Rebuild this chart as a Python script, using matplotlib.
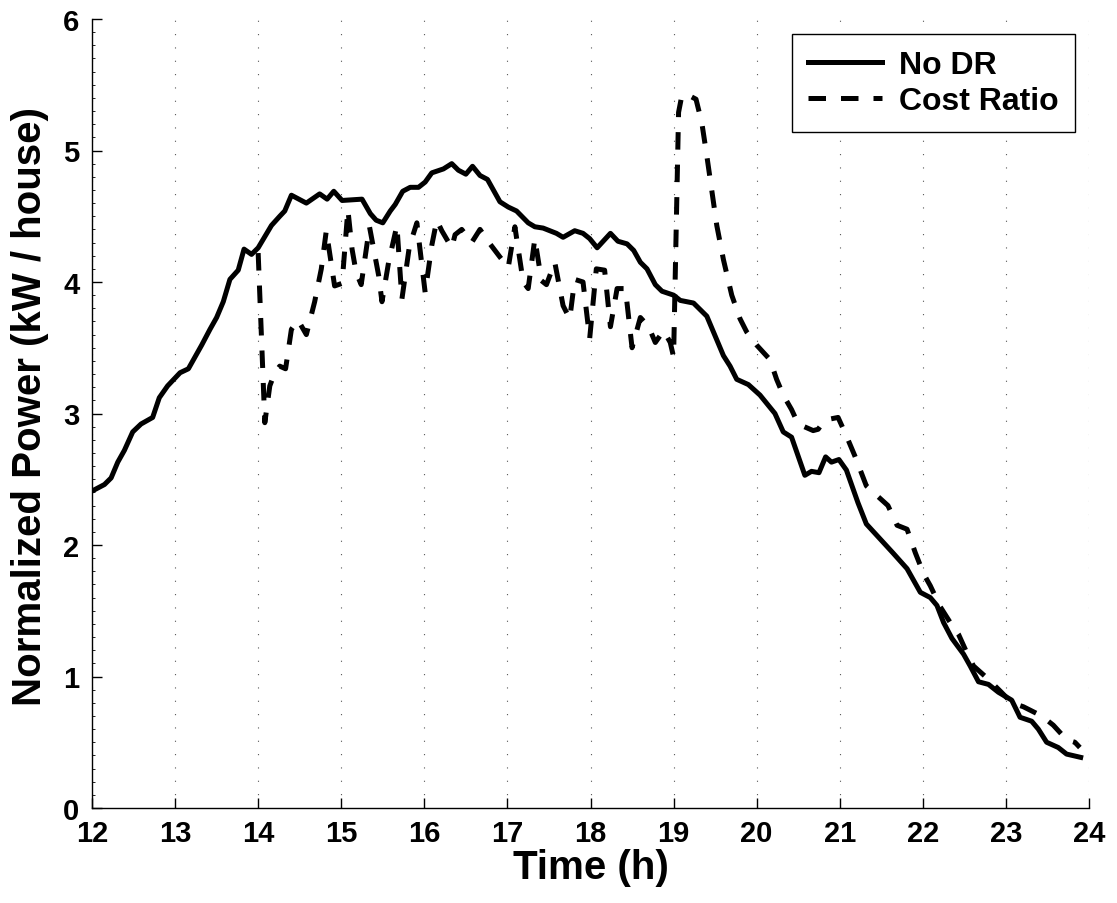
import matplotlib
matplotlib.use("Agg")
import matplotlib.pyplot as plt
from matplotlib.ticker import MultipleLocator

# ---------------- data ----------------
nodr_t = [12.00, 12.15, 12.23, 12.31, 12.39, 12.49, 12.59, 12.73, 12.81, 12.91,
          13.06, 13.16, 13.32, 13.42, 13.50, 13.58, 13.66, 13.76, 13.83, 13.92,
          14.00, 14.16, 14.26, 14.32, 14.40, 14.58, 14.74, 14.83, 14.91, 15.01,
          15.25, 15.35, 15.42, 15.50, 15.59, 15.65, 15.74, 15.83, 15.93, 16.01,
          16.09, 16.23, 16.33, 16.41, 16.50, 16.58, 16.67, 16.76, 16.91, 17.01,
          17.11, 17.25, 17.33, 17.43, 17.59, 17.67, 17.81, 17.91, 17.99, 18.08,
          18.24, 18.33, 18.44, 18.52, 18.60, 18.68, 18.78, 18.86, 19.00, 19.08,
          19.24, 19.40, 19.50, 19.60, 19.68, 19.76, 19.90, 20.04, 20.22, 20.32,
          20.42, 20.58, 20.66, 20.75, 20.83, 20.90, 20.99, 21.08, 21.22, 21.32,
          21.48, 21.64, 21.81, 21.97, 22.09, 22.17, 22.25, 22.35, 22.49, 22.57,
          22.67, 22.79, 22.91, 23.07, 23.17, 23.31, 23.39, 23.49, 23.63, 23.73,
          23.90]
nodr_p = [2.41, 2.46, 2.51, 2.63, 2.72, 2.86, 2.92, 2.97, 3.12, 3.21,
          3.31, 3.34, 3.52, 3.64, 3.73, 3.85, 4.02, 4.09, 4.25, 4.21,
          4.26, 4.43, 4.50, 4.54, 4.66, 4.60, 4.67, 4.63, 4.69, 4.62,
          4.63, 4.52, 4.47, 4.45, 4.54, 4.59, 4.69, 4.72, 4.72, 4.76,
          4.83, 4.86, 4.90, 4.85, 4.82, 4.88, 4.81, 4.78, 4.61, 4.57,
          4.54, 4.45, 4.42, 4.41, 4.37, 4.34, 4.39, 4.37, 4.33, 4.26,
          4.37, 4.31, 4.29, 4.24, 4.15, 4.10, 3.98, 3.93, 3.90, 3.86,
          3.84, 3.74, 3.59, 3.44, 3.36, 3.26, 3.22, 3.14, 3.00, 2.86,
          2.82, 2.53, 2.56, 2.55, 2.67, 2.63, 2.65, 2.57, 2.32, 2.16,
          2.05, 1.94, 1.82, 1.64, 1.60, 1.54, 1.41, 1.29, 1.17, 1.08,
          0.96, 0.94, 0.88, 0.82, 0.69, 0.66, 0.60, 0.50, 0.46, 0.41,
          0.385]

cost_t = [14.00, 14.08, 14.14, 14.20, 14.26, 14.33, 14.40, 14.48, 14.58, 14.68,
          14.76, 14.82, 14.92, 15.01, 15.08, 15.13, 15.18, 15.24, 15.34, 15.45,
          15.49, 15.57, 15.67, 15.73, 15.82, 15.91, 16.01, 16.09, 16.15, 16.21,
          16.33, 16.37, 16.45, 16.57, 16.67, 16.79, 16.91, 17.01, 17.09, 17.19,
          17.25, 17.33, 17.41, 17.47, 17.57, 17.67, 17.75, 17.81, 17.91, 17.99,
          18.07, 18.17, 18.24, 18.32, 18.42, 18.50, 18.60, 18.70, 18.78, 18.88,
          18.96, 19.00, 19.06, 19.10, 19.18, 19.27, 19.34, 19.40, 19.52, 19.60,
          19.70, 19.80, 19.88, 20.00, 20.16, 20.24, 20.32, 20.42, 20.50, 20.68,
          20.74, 20.82, 20.98, 21.08, 21.18, 21.32, 21.44, 21.58, 21.69, 21.81,
          21.91, 22.01, 22.09, 22.21, 22.33, 22.43, 22.53, 22.61, 22.77, 22.93,
          23.07, 23.21, 23.43, 23.57, 23.73, 23.83, 23.89]
cost_p = [4.22, 2.93, 3.21, 3.31, 3.36, 3.34, 3.64, 3.71, 3.60, 3.85,
          4.10, 4.39, 3.97, 3.99, 4.55, 4.25, 4.07, 3.98, 4.42, 4.05,
          3.85, 4.15, 4.43, 3.87, 4.27, 4.45, 3.92, 4.28, 4.47, 4.39,
          4.26, 4.36, 4.40, 4.30, 4.40, 4.29, 4.19, 4.11, 4.42, 4.00,
          3.95, 4.33, 4.01, 3.98, 4.15, 3.82, 3.72, 4.02, 4.00, 3.57,
          4.10, 4.09, 3.66, 3.95, 3.95, 3.50, 3.73, 3.66, 3.54, 3.63,
          3.54, 3.43, 5.29, 5.42, 5.42, 5.39, 5.21, 4.96, 4.43, 4.17,
          3.90, 3.72, 3.62, 3.52, 3.41, 3.26, 3.14, 3.03, 2.92, 2.87,
          2.88, 2.95, 2.97, 2.83, 2.68, 2.45, 2.38, 2.30, 2.15, 2.12,
          1.94, 1.78, 1.69, 1.53, 1.41, 1.32, 1.18, 1.08, 0.99, 0.89,
          0.80, 0.77, 0.70, 0.63, 0.52, 0.50, 0.46]

series_labels = ["No DR", "Cost Ratio"]
x_ticks = list(range(12, 25))
y_ticks = list(range(0, 7))
x_label = "Time (h)"
y_label = "Normalized Power (kW / house)"

# ---------------- figure ----------------
fam = ["Liberation Sans", "DejaVu Sans"]

fig = plt.figure(figsize=(11.17, 9.04), dpi=100)
ax = fig.add_axes([92 / 1117, 1 - 809 / 904, (1089 - 92) / 1117, (809 - 20) / 904])

lw = 3.6
ax.plot(nodr_t, nodr_p, color="black", lw=lw, solid_joinstyle="round",
        label=series_labels[0], zorder=3)
ax.plot(cost_t, cost_p, color="black", lw=lw, linestyle=(0, (3.5, 3.0)),
        dash_capstyle="butt", dash_joinstyle="round",
        label=series_labels[1], zorder=3)

ax.set_xlim(12, 24)
ax.set_ylim(0, 6)
ax.set_xticks(x_ticks)
ax.set_yticks(y_ticks)
ax.yaxis.set_minor_locator(MultipleLocator(0.1))

for s in ("top", "right"):
    ax.spines[s].set_visible(False)
for s in ("left", "bottom"):
    ax.spines[s].set_linewidth(1.0)

ax.tick_params(axis="x", which="major", direction="in", length=7, width=1.0,
               pad=8)
ax.tick_params(axis="y", which="major", direction="in", length=7, width=1.0,
               pad=9)
ax.tick_params(axis="y", which="minor", direction="in", length=2.5, width=0.6)
ax.tick_params(axis="x", which="minor", bottom=False)

for lab in ax.get_xticklabels() + ax.get_yticklabels():
    lab.set_family(fam)
    lab.set_fontweight("bold")
    lab.set_fontsize(21)

ax.grid(axis="x", which="major", color="#555555", linestyle=(0, (1, 11)),
        linewidth=0.8)
ax.set_axisbelow(True)

ax.set_xlabel(x_label, family=fam, fontweight="bold", fontsize=29, labelpad=1)
ax.set_ylabel(y_label, family=fam, fontweight="bold", fontsize=29)
ax.yaxis.set_label_coords(-0.043, 0.51)

leg = ax.legend(loc="upper right", bbox_to_anchor=(0.986, 0.981),
                borderaxespad=0, frameon=True, fancybox=False,
                prop={"family": fam, "weight": "bold", "size": 23},
                handlelength=2.3, handletextpad=0.55, labelspacing=0.2,
                borderpad=0.5)
leg.get_frame().set_edgecolor("black")
leg.get_frame().set_linewidth(1.0)
leg.get_frame().set_alpha(1)

fig.savefig("out.png", dpi=100, facecolor="white")
